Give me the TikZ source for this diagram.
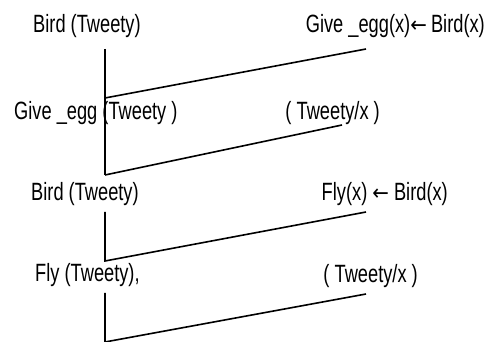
\documentclass[tikz,border=0pt]{standalone}
\usepackage{fontspec}
\setmainfont{Liberation Sans}[FakeStretch=0.73]
\newfontfamily\arrowfont{DejaVu Sans}[FakeStretch=0.9]
\newcommand{\larr}{{\arrowfont\fontsize{22}{26}\selectfont ←}}
\begin{document}
\begin{tikzpicture}[x=1pt,y=-1pt,
  lbl/.style={anchor=base west,inner sep=0pt,font=\fontsize{25}{28}\selectfont},
  lblr/.style={lbl,anchor=base east},
  ln/.style={line width=1.6pt,black}]
\useasboundingbox (0,0) rectangle (491,342);
% texts
\node[lbl] (t1l) at (33,33) {Bird (Tweety)};
\node[lblr] (t1r) at (485,33) {Give \_egg(x)\larr\,Bird(x)};
\node[lbl] (t2l) at (14,120) {Give \_egg (Tweety )};
\node[lblr] (t2r) at (380,120) {( Tweety/x )};
\node[lbl] (t3l) at (31,201) {Bird (Tweety)};
\node[lblr] (t3r) at (448,201) {Fly(x) \larr\ Bird(x)};
\node[lbl] (t4l) at (35,282) {Fly (Tweety),};
\node[lblr] (t4r) at (418,283) {( Tweety/x )};
% line points
\coordinate (a1) at (105,49);
\coordinate (a2) at (105,98);
\coordinate (a3) at (105,175);
\coordinate (b1) at (366,49);
\coordinate (b2) at (342,125);
\coordinate (c1) at (105,212);
\coordinate (c2) at (105,261);
\coordinate (d1) at (366,212);
\coordinate (e1) at (105,293);
\coordinate (e2) at (105,342);
\coordinate (f1) at (366,294);
\draw[ln] (a1) -- (a3);
\draw[ln] (a2) -- (b1);
\draw[ln] (a3) -- (b2);
\draw[ln] (c1) -- (c2) -- (d1);
\draw[ln] (e1) -- (e2) -- (f1);
\end{tikzpicture}
\end{document}
